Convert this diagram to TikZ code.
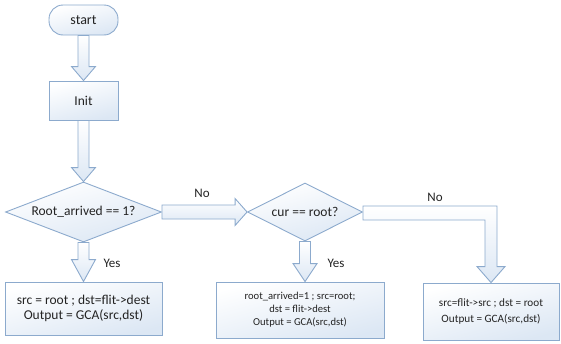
\documentclass[tikz,border=0pt]{standalone}
\usepackage{fontspec}
\setmainfont{Carlito}
\usetikzlibrary{shapes.geometric,calc}
\definecolor{edgeblue}{RGB}{140,170,205}
\definecolor{fillblue}{RGB}{220,231,244}
\definecolor{txt}{RGB}{35,35,35}
\tikzset{
  shape box/.style={draw=edgeblue, line width=0.9pt, top color=white, bottom color=fillblue, shading angle=15, text=txt, align=center, inner sep=0pt},
  termbox/.style={shape box, rectangle, rounded corners=14pt, minimum width=69pt, minimum height=30pt, font=\fontsize{14}{16}\selectfont},
  procbox/.style={shape box, rectangle, font=\fontsize{13.5}{15}\selectfont},
  decbox/.style={shape box, diamond, aspect=2.6, font=\fontsize{13.5}{15}\selectfont},
  blockarrow/.style={draw=edgeblue, line width=0.9pt, top color=white, bottom color=fillblue, line join=miter},
  lbl/.style={text=txt, font=\fontsize{13}{15}\selectfont, inner sep=0pt}
}
\newcommand{\bdown}[3]{%
  \path[blockarrow] let \p1=(#1.south), \p2=(#2.north) in
    (\x1-5.5pt,\y1) -- (\x1+5.5pt,\y1) -- (\x1+5.5pt,\y2+#3) -- (\x1+12pt,\y2+#3)
    -- (\x1,\y2) -- (\x1-12pt,\y2+#3) -- (\x1-5.5pt,\y2+#3) -- cycle;}
\begin{document}
\begin{tikzpicture}[x=1pt,y=-1pt]
\useasboundingbox (0,0) rectangle (561,343);
% nodes
\node[termbox] (start) at (83.5,20) {start};
\node[procbox, minimum width=69pt, minimum height=39pt] (init) at (83.5,100.5) {Init};
\node[decbox, minimum width=156pt, minimum height=60pt] (d1) at (83.5,212) {Root\_arrived == 1?};
\node[decbox, aspect=2, minimum width=115pt, minimum height=58pt] (d2) at (305,212) {cur == root?};
\node[procbox, minimum width=157pt, minimum height=53pt] (b1) at (83.5,308.5)
  {src = root ; dst=flit->dest\\Output = GCA(src,dst)};
\node[procbox, minimum width=168pt, minimum height=56pt, font=\fontsize{10.6}{13}\selectfont] (b2) at (300,310)
  {root\_arrived=1 ; src=root;\\dst = flit->dest\\Output = GCA(src,dst)};
\node[procbox, minimum width=136pt, minimum height=57pt, font=\fontsize{11.2}{16}\selectfont] (b3) at (491,311.5)
  {src=flit->src ; dst = root\\Output = GCA(src,dst)};
% block arrows
\bdown{start}{init}{14pt}
\bdown{init}{d1}{14pt}
\bdown{d1}{b1}{22pt}
\bdown{d2}{b2}{18pt}
\path[blockarrow] let \p1=(d1.east), \p2=(d2.west) in
  (\x1,\y1+7pt) -- (\x2-12pt,\y1+7pt) -- (\x2-12pt,\y1+13.5pt) -- (\x2,\y1)
  -- (\x2-12pt,\y1-13.5pt) -- (\x2-12pt,\y1-7pt) -- (\x1,\y1-7pt) -- cycle;
\path[blockarrow] let \p1=(d2.east), \p2=(b3.north) in
  (\x1,\y1+6pt) -- (\x2+6pt,\y1+6pt) -- (\x2+6pt,\y2+16pt) -- (\x2+14pt,\y2+16pt)
  -- (\x2,\y2) -- (\x2-14pt,\y2+16pt) -- (\x2-6pt,\y2+16pt) -- (\x2-6pt,\y1-8pt)
  -- (\x1,\y1-8pt) -- cycle;
% labels
\node[lbl] (no1) at (202,193) {No};
\node[lbl] (no2) at (435,197) {No};
\node[lbl] (yes1) at (112,263) {Yes};
\node[lbl] (yes2) at (336,263) {Yes};
\end{tikzpicture}
\end{document}
